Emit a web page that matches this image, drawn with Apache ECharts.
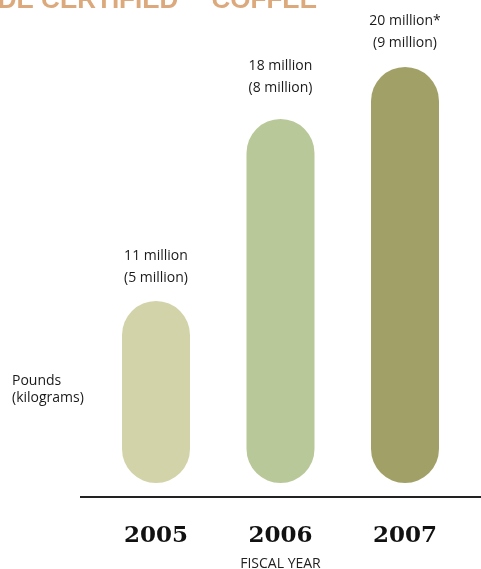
<!DOCTYPE html>
<html>
<head>
<meta charset="utf-8">
<script src="https://cdn.jsdelivr.net/npm/echarts@6/dist/echarts.min.js"></script>
<style>
html,body{margin:0;padding:0;background:#fff;}
#c{width:481px;height:569px;}
</style>
</head>
<body>
<div id="c"></div>
<script>
var years = ['2005', '2006', '2007'];
var poundsMillions = [11, 18, 20];
var kilogramsMillions = [5, 8, 9];
var notes = ['', '', '*'];
var barColors = ['#d2d3a9', '#b8c898', '#a1a167'];
var labelGaps = [12, 20, 13];

var chart = echarts.init(document.getElementById('c'), null, {renderer: 'canvas'});
var option = {
  animation: false,
  backgroundColor: '#ffffff',
  grid: {left: 93.75, right: 13.75, top: 15, bottom: 86, containLabel: false, outerBoundsMode: 'none'},
  xAxis: {
    type: 'category',
    data: years,
    offset: 14,
    axisLine: {show: false},
    axisTick: {show: false},
    axisLabel: {
      margin: 28,
      fontFamily: 'DejaVu Serif',
      fontWeight: 'bold',
      fontSize: 23,
      color: '#111'
    },
    name: 'FISCAL YEAR',
    nameLocation: 'middle',
    nameGap: 60,
    nameTextStyle: {fontFamily: 'Open Sans', fontSize: 14, color: '#222'}
  },
  yAxis: {
    type: 'value',
    min: 4,
    max: 22,
    show: false,
    splitLine: {show: false}
  },
  series: [{
    type: 'bar',
    barWidth: 68,
    data: poundsMillions.map(function (v, i) {
      return {value: v, itemStyle: {color: barColors[i]}, label: {distance: labelGaps[i]}};
    }),
    itemStyle: {borderRadius: 34},
    label: {
      show: true,
      position: 'top',
      fontFamily: 'Open Sans',
      fontSize: 14,
      lineHeight: 22,
      color: '#1a1a1a',
      formatter: function (p) {
        var i = p.dataIndex;
        return poundsMillions[i] + ' million' + notes[i] + '\n(' + kilogramsMillions[i] + ' million)';
      }
    }
  }],
  graphic: [
    {
      type: 'line',
      shape: {x1: 80, y1: 497, x2: 481, y2: 497},
      style: {stroke: '#222', lineWidth: 2}
    },
    {
      type: 'text',
      x: 12,
      y: 373,
      style: {
        text: 'Pounds\n(kilograms)',
        fontFamily: 'Open Sans',
        fontSize: 14,
        lineHeight: 17,
        fill: '#1a1a1a'
      }
    },
    {
      type: 'text',
      x: 317,
      y: 1,
      style: {
        text: 'FAIR TRADE CERTIFIED\u2122 COFFEE',
        fontFamily: 'Liberation Sans',
        fontWeight: 'bold',
        fontSize: 26,
        fill: '#dca97c',
        align: 'right',
        verticalAlign: 'middle'
      }
    }
  ]
};
chart.setOption(option);
</script>
</body>
</html>
